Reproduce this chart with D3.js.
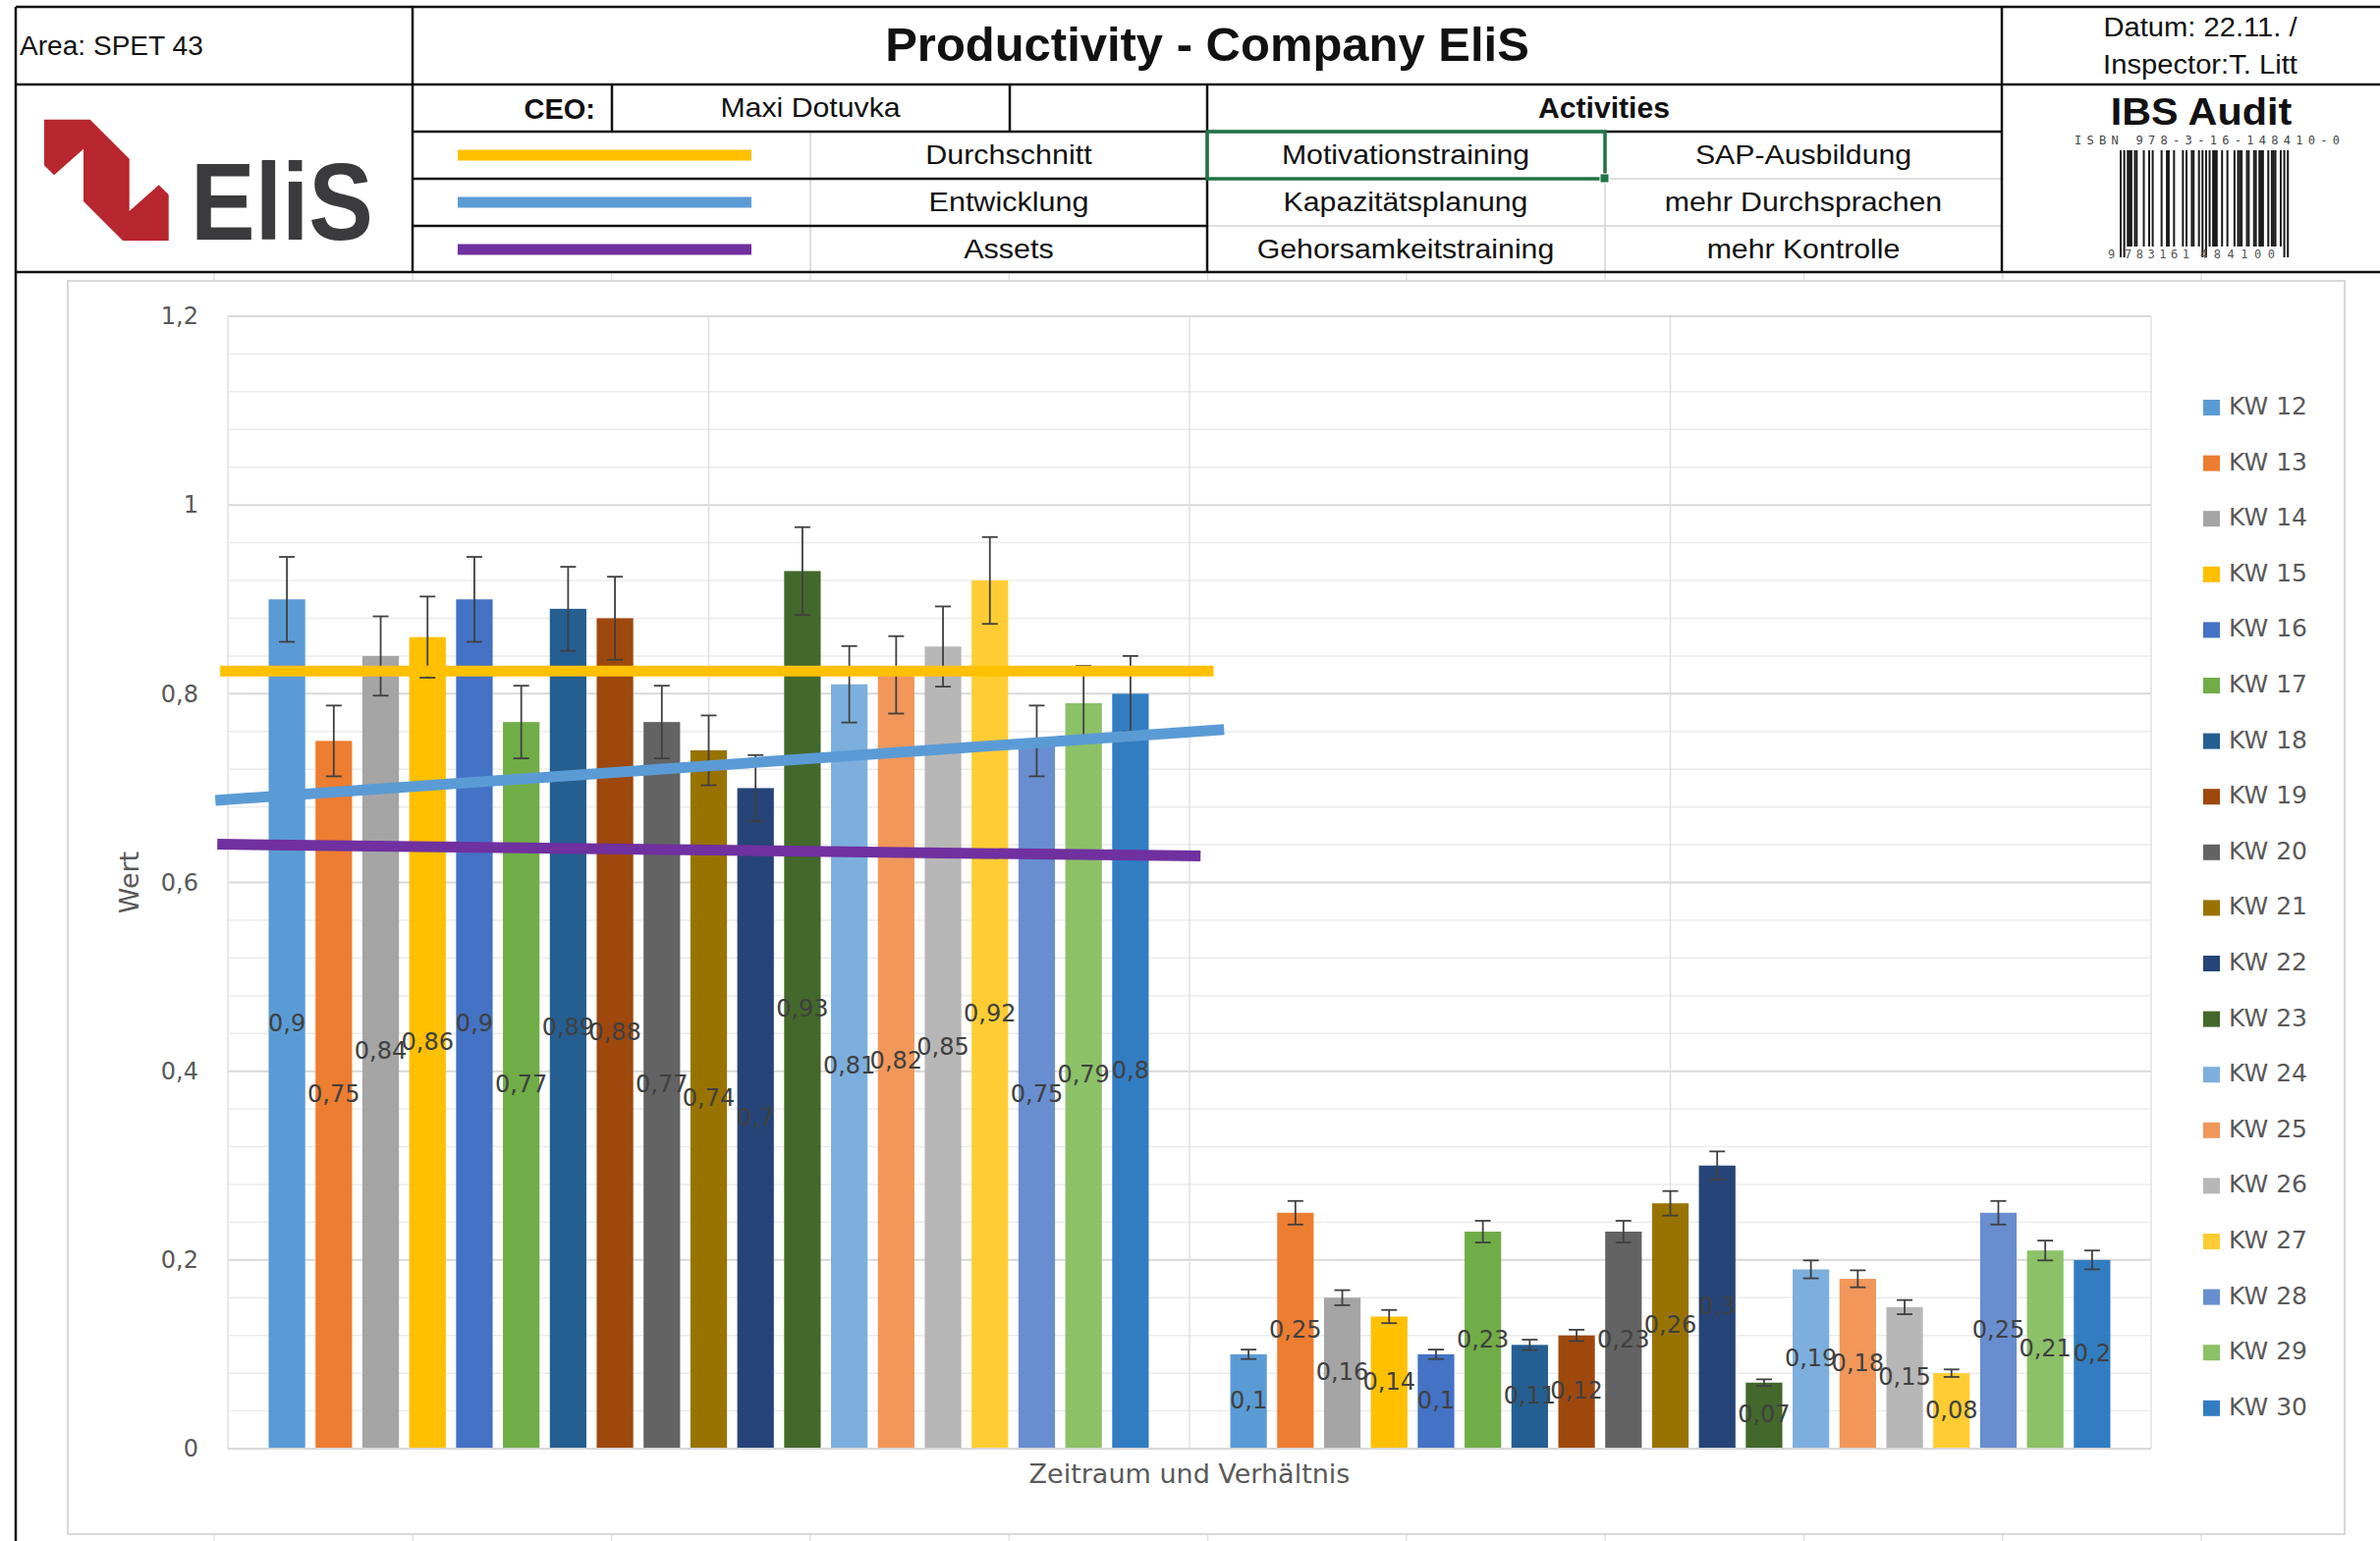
<!DOCTYPE html>
<html>
<head>
<meta charset="utf-8">
<script src="https://cdn.jsdelivr.net/npm/d3@7"></script>
<style>
  body { margin: 0; background: #fff; }
</style>
</head>
<body>
<div id="chart"></div>
<script>
// ---- data ----
var categories = ["Zeitraum", "Verhältnis"];
var weeks = ["KW 12", "KW 13", "KW 14", "KW 15", "KW 16", "KW 17", "KW 18", "KW 19", "KW 20", "KW 21",
             "KW 22", "KW 23", "KW 24", "KW 25", "KW 26", "KW 27", "KW 28", "KW 29", "KW 30"];
var weekColors = ["#5B9BD5", "#ED7D31", "#A5A5A5", "#FFC000", "#4472C4", "#70AD47", "#255E91", "#9E480E", "#636363", "#997300",
                  "#264478", "#43682B", "#7CAFDD", "#F1975A", "#B7B7B7", "#FFCD33", "#698ED0", "#8CC168", "#327DC2"];
var valuesFirst = [0.9, 0.75, 0.84, 0.86, 0.9, 0.77, 0.89, 0.88, 0.77, 0.74, 0.7, 0.93, 0.81, 0.82, 0.85, 0.92, 0.75, 0.79, 0.8];
var valuesSecond = [0.1, 0.25, 0.16, 0.14, 0.1, 0.23, 0.11, 0.12, 0.23, 0.26, 0.3, 0.07, 0.19, 0.18, 0.15, 0.08, 0.25, 0.21, 0.2];
var errorShare = 0.05;   // error bars: 5 % of value
var yTicks = [0, 0.2, 0.4, 0.6, 0.8, 1, 1.2];
var yMinorTicks = [0.04, 0.08, 0.12, 0.16, 0.24, 0.28, 0.32, 0.36, 0.44, 0.48, 0.52, 0.56, 0.64, 0.68, 0.72, 0.76,
                   0.84, 0.88, 0.92, 0.96, 1.04, 1.08, 1.12, 1.16];

// drawn lines over the chart (x in category units, y in values)
var trendNames = ["Durchschnitt", "Entwicklung", "Assets"];
var trendColors = ["#FFC000", "#5B9BD5", "#7030A0"];
var trendFrom = [[-0.008, 0.824], [-0.013, 0.687], [-0.011, 0.6405]];
var trendTo = [[1.025, 0.824], [1.036, 0.762], [1.0115, 0.628]];

var activities = [["Motivationstraining", "SAP-Ausbildung"],
                  ["Kapazitätsplanung", "mehr Durchsprachen"],
                  ["Gehorsamkeitstraining", "mehr Kontrolle"]];

var W = 2423, H = 1569;
var svg = d3.select("#chart").append("svg")
    .attr("width", W).attr("height", H)
    .style("display", "block");

var headFont = "'Liberation Sans', Arial, sans-serif";
var chartFont = "'DejaVu Sans', sans-serif";

// faint spreadsheet grid
var sheetCols = d3.range(218, W, 202.3);
svg.append("g").selectAll("line").data(sheetCols).enter().append("line")
    .attr("x1", function (d) { return d; }).attr("x2", function (d) { return d; })
    .attr("y1", 277).attr("y2", H)
    .attr("stroke", "#e3e3e3").attr("stroke-width", 1.5);

// ---------------- header table ----------------
var head = svg.append("g");
function hline(x1, x2, y, col, w) {
    head.append("line").attr("x1", x1).attr("x2", x2).attr("y1", y).attr("y2", y)
        .attr("stroke", col || "#111").attr("stroke-width", w || 2.5);
}
function vline(x, y1, y2, col, w) {
    head.append("line").attr("x1", x).attr("x2", x).attr("y1", y1).attr("y2", y2)
        .attr("stroke", col || "#111").attr("stroke-width", w || 2.5);
}
// header text in the sheet is a little wider than Arial, so stretch it
function htext(str, x, y, anchor, size, weight, stretch) {
    var t = head.append("text").attr("x", x).attr("y", y)
        .attr("text-anchor", anchor).style("font-family", headFont)
        .style("font-size", size + "px").style("font-weight", weight || "normal")
        .attr("fill", "#111").text(str);
    if (stretch) {
        var len = t.node().getComputedTextLength();
        t.attr("textLength", len * stretch).attr("lengthAdjust", "spacingAndGlyphs");
    }
    return t;
}

// light inner lines first
hline(1229, 2038, 182, "#d4d4d4", 1.5);
hline(1229, 2038, 230, "#d4d4d4", 1.5);
vline(825, 134, 277, "#d4d4d4", 1.5);
vline(1634, 134, 277, "#d4d4d4", 1.5);

hline(16, W, 7);
hline(16, W, 86);
hline(420, 2038, 134);
hline(420, 1229, 182);
hline(420, 1229, 230);
hline(16, W, 277);
vline(16, 7, H);
vline(420, 7, 277);
vline(2038, 7, 277);
vline(1229, 86, 277);
vline(623, 86, 134);
vline(1028, 86, 134);

htext("Area: SPET 43", 20, 56, "start", 27, "normal", 1.04);
htext("Productivity - Company EliS", 1229, 62, "middle", 48, "bold", 1.02);
htext("Datum: 22.11. /", 2240, 37, "middle", 27, "normal", 1.08);
htext("Inspector:T. Litt", 2240, 75, "middle", 27, "normal", 1.08);
htext("CEO:", 606, 121, "end", 29, "bold");
htext("Maxi Dotuvka", 825, 119, "middle", 28, "normal", 1.08);
htext("Activities", 1633, 120, "middle", 29, "bold", 1.04);

trendNames.forEach(function (n, i) {
    var yb = 167 + i * 48;
    head.append("line").attr("x1", 466).attr("x2", 765)
        .attr("y1", yb - 9).attr("y2", yb - 9)
        .attr("stroke", trendColors[i]).attr("stroke-width", 11);
    htext(n, 1027, yb, "middle", 28, "normal", 1.09);
});
activities.forEach(function (row, i) {
    var yb = 167 + i * 48;
    htext(row[0], 1431, yb, "middle", 28, "normal", 1.08);
    htext(row[1], 1836, yb, "middle", 28, "normal", 1.08);
});
// selected cell
head.append("rect").attr("x", 1229).attr("y", 134).attr("width", 405).attr("height", 48)
    .attr("fill", "none").attr("stroke", "#217346").attr("stroke-width", 3.5);
head.append("rect").attr("x", 1629).attr("y", 177).attr("width", 9).attr("height", 9)
    .attr("fill", "#217346").attr("stroke", "#fff").attr("stroke-width", 1);

// logo
var logoPts = [[45, 121.7], [91.7, 121.7], [131.7, 161.7], [131.7, 215], [161.7, 188.3], [171.7, 198.3],
               [171.7, 245], [125, 245], [85, 205], [85, 151.7], [55, 178.3], [45, 168.3]];
head.append("path").attr("d", d3.line()(logoPts) + "Z").attr("fill", "#B8262F");
head.append("text").attr("x", 194).attr("y", 244)
    .attr("textLength", 186).attr("lengthAdjust", "spacingAndGlyphs")
    .style("font-family", headFont).style("font-size", "112px").style("font-weight", "bold")
    .attr("fill", "#3b3b3d").text("EliS");

// IBS Audit + barcode
htext("IBS Audit", 2241, 127, "middle", 39, "bold", 1.06);
head.append("text").attr("x", 2112).attr("y", 147)
    .attr("textLength", 270).attr("lengthAdjust", "spacing")
    .style("font-family", "'DejaVu Sans Mono', monospace").style("font-size", "12px")
    .attr("fill", "#444").text("ISBN 978-3-16-148410-0");

var eanL = ["0001101", "0011001", "0010011", "0111101", "0100011", "0110001", "0101111", "0111011", "0110111", "0001011"];
function eanR(d) { return eanL[d].split("").map(function (b) { return b === "1" ? "0" : "1"; }).join(""); }
function eanG(d) { return eanR(d).split("").reverse().join(""); }
var eanDigits = "9783161484100".split("").map(Number);
var parity = "LGGLGL";
var bits = "101";
for (var k = 1; k <= 6; k++) bits += parity[k - 1] === "L" ? eanL[eanDigits[k]] : eanG(eanDigits[k]);
bits += "01010";
for (var k2 = 7; k2 <= 12; k2++) bits += eanR(eanDigits[k2]);
bits += "101";
var modW = 172 / bits.length;
var guards = {};
[0, 1, 2, 45, 46, 47, 48, 49, 92, 93, 94].forEach(function (g) { guards[g] = true; });
var barcode = head.append("g");
bits.split("").forEach(function (b, i) {
    if (b !== "1") return;
    barcode.append("rect").attr("x", 2158 + i * modW).attr("y", 153)
        .attr("width", modW + 0.2).attr("height", guards[i] ? 109 : 98).attr("fill", "#1a1a1a");
});
[["9", 2146, 8], ["783161", 2163, 66], ["484100", 2240, 76]].forEach(function (t) {
    head.append("text").attr("x", t[1]).attr("y", 263)
        .style("font-family", "'DejaVu Sans Mono', monospace").style("font-size", "12px")
        .attr("textLength", t[2]).attr("lengthAdjust", "spacing")
        .attr("fill", "#555").text(t[0]);
});

// ---------------- chart ----------------
svg.append("rect").attr("x", 69).attr("y", 286).attr("width", 2318).attr("height", 1276)
    .attr("fill", "#fff").attr("stroke", "#d9d9d9").attr("stroke-width", 2);

var plot = { left: 232, right: 2190, top: 322, bottom: 1475 };
var g = svg.append("g");

var y = d3.scaleLinear().domain([0, 1.2]).range([plot.bottom, plot.top]);
var x0 = d3.scaleBand().domain(categories).range([plot.left, plot.right]).padding(0);
var x1 = d3.scaleBand().domain(weeks).range([0, x0.bandwidth()])
    .paddingInner(0.22).paddingOuter(0.87);
var xc = d3.scaleLinear().domain([0, categories.length]).range([plot.left, plot.right]);

// gridlines
g.append("g").selectAll("line").data(yMinorTicks).enter().append("line")
    .attr("x1", plot.left).attr("x2", plot.right)
    .attr("y1", function (d) { return y(d); }).attr("y2", function (d) { return y(d); })
    .attr("stroke", "#ececec").attr("stroke-width", 1.5);
g.append("g").selectAll("line").data(yTicks).enter().append("line")
    .attr("x1", plot.left).attr("x2", plot.right)
    .attr("y1", function (d) { return y(d); }).attr("y2", function (d) { return y(d); })
    .attr("stroke", "#d9d9d9").attr("stroke-width", 2);
g.append("g").selectAll("line").data(d3.range(0, categories.length + 0.01, 0.5)).enter().append("line")
    .attr("x1", function (d) { return xc(d); }).attr("x2", function (d) { return xc(d); })
    .attr("y1", plot.top).attr("y2", plot.bottom)
    .attr("stroke", "#e0e0e0").attr("stroke-width", 1.5);

// y axis labels
var fmt = function (v) { return d3.format("~g")(v).replace(".", ","); };
var yAxis = g.append("g").attr("transform", "translate(" + (plot.left - 30) + ",0)")
    .call(d3.axisLeft(y).tickValues(yTicks).tickFormat(fmt).tickSize(0).tickPadding(0));
yAxis.select(".domain").remove();
yAxis.selectAll("text").style("font-family", chartFont).style("font-size", "24px").attr("fill", "#595959");

g.append("text").attr("transform", "translate(133," + ((plot.top + plot.bottom) / 2) + ") rotate(-90)")
    .attr("text-anchor", "middle").attr("dominant-baseline", "middle")
    .style("font-family", chartFont).style("font-size", "27px").attr("fill", "#595959").text("Wert");
g.append("text").attr("x", (plot.left + plot.right) / 2).attr("y", 1502)
    .attr("text-anchor", "middle").attr("dominant-baseline", "middle")
    .style("font-family", chartFont).style("font-size", "27px").attr("fill", "#595959")
    .text("Zeitraum und Verhältnis");

// bars
var rows = [];
[valuesFirst, valuesSecond].forEach(function (vals, c) {
    vals.forEach(function (v, i) {
        rows.push({ cat: categories[c], week: weeks[i], color: weekColors[i], value: v });
    });
});
function bx(d) { return x0(d.cat) + x1(d.week); }

g.append("g").selectAll("rect").data(rows).enter().append("rect")
    .attr("x", bx).attr("width", x1.bandwidth())
    .attr("y", function (d) { return y(d.value); })
    .attr("height", function (d) { return y(0) - y(d.value); })
    .attr("fill", function (d) { return d.color; });

// error bars
var err = g.append("g").attr("stroke", "#404040").attr("stroke-width", 1.8);
rows.forEach(function (d) {
    var cx = bx(d) + x1.bandwidth() / 2;
    var hi = y(d.value * (1 + errorShare)), lo = y(d.value * (1 - errorShare));
    err.append("line").attr("x1", cx).attr("x2", cx).attr("y1", hi).attr("y2", lo);
    err.append("line").attr("x1", cx - 8).attr("x2", cx + 8).attr("y1", hi).attr("y2", hi);
    err.append("line").attr("x1", cx - 8).attr("x2", cx + 8).attr("y1", lo).attr("y2", lo);
});

// baseline
g.append("line").attr("x1", plot.left).attr("x2", plot.right)
    .attr("y1", y(0)).attr("y2", y(0)).attr("stroke", "#d9d9d9").attr("stroke-width", 2);

// value labels (centred in bars)
g.append("g").selectAll("text").data(rows).enter().append("text")
    .attr("x", function (d) { return bx(d) + x1.bandwidth() / 2; })
    .attr("y", function (d) { return y(d.value / 2); })
    .attr("text-anchor", "middle").attr("dominant-baseline", "middle")
    .style("font-family", chartFont).style("font-size", "24px").attr("fill", "#404040")
    .text(function (d) { return fmt(d.value); });

// drawn lines
trendNames.forEach(function (n, i) {
    g.append("line")
        .attr("x1", xc(trendFrom[i][0])).attr("y1", y(trendFrom[i][1]))
        .attr("x2", xc(trendTo[i][0])).attr("y2", y(trendTo[i][1]))
        .attr("stroke", trendColors[i]).attr("stroke-width", 11);
});

// legend
var legend = g.append("g");
weeks.forEach(function (w, i) {
    var ly = 415 + i * 56.6;
    legend.append("rect").attr("x", 2243).attr("y", ly - 8).attr("width", 17).attr("height", 16)
        .attr("fill", weekColors[i]);
    legend.append("text").attr("x", 2269).attr("y", ly).attr("dominant-baseline", "middle")
        .attr("textLength", 80).attr("lengthAdjust", "spacingAndGlyphs")
        .style("font-family", chartFont).style("font-size", "24px").attr("fill", "#595959").text(w);
});
</script>
</body>
</html>
